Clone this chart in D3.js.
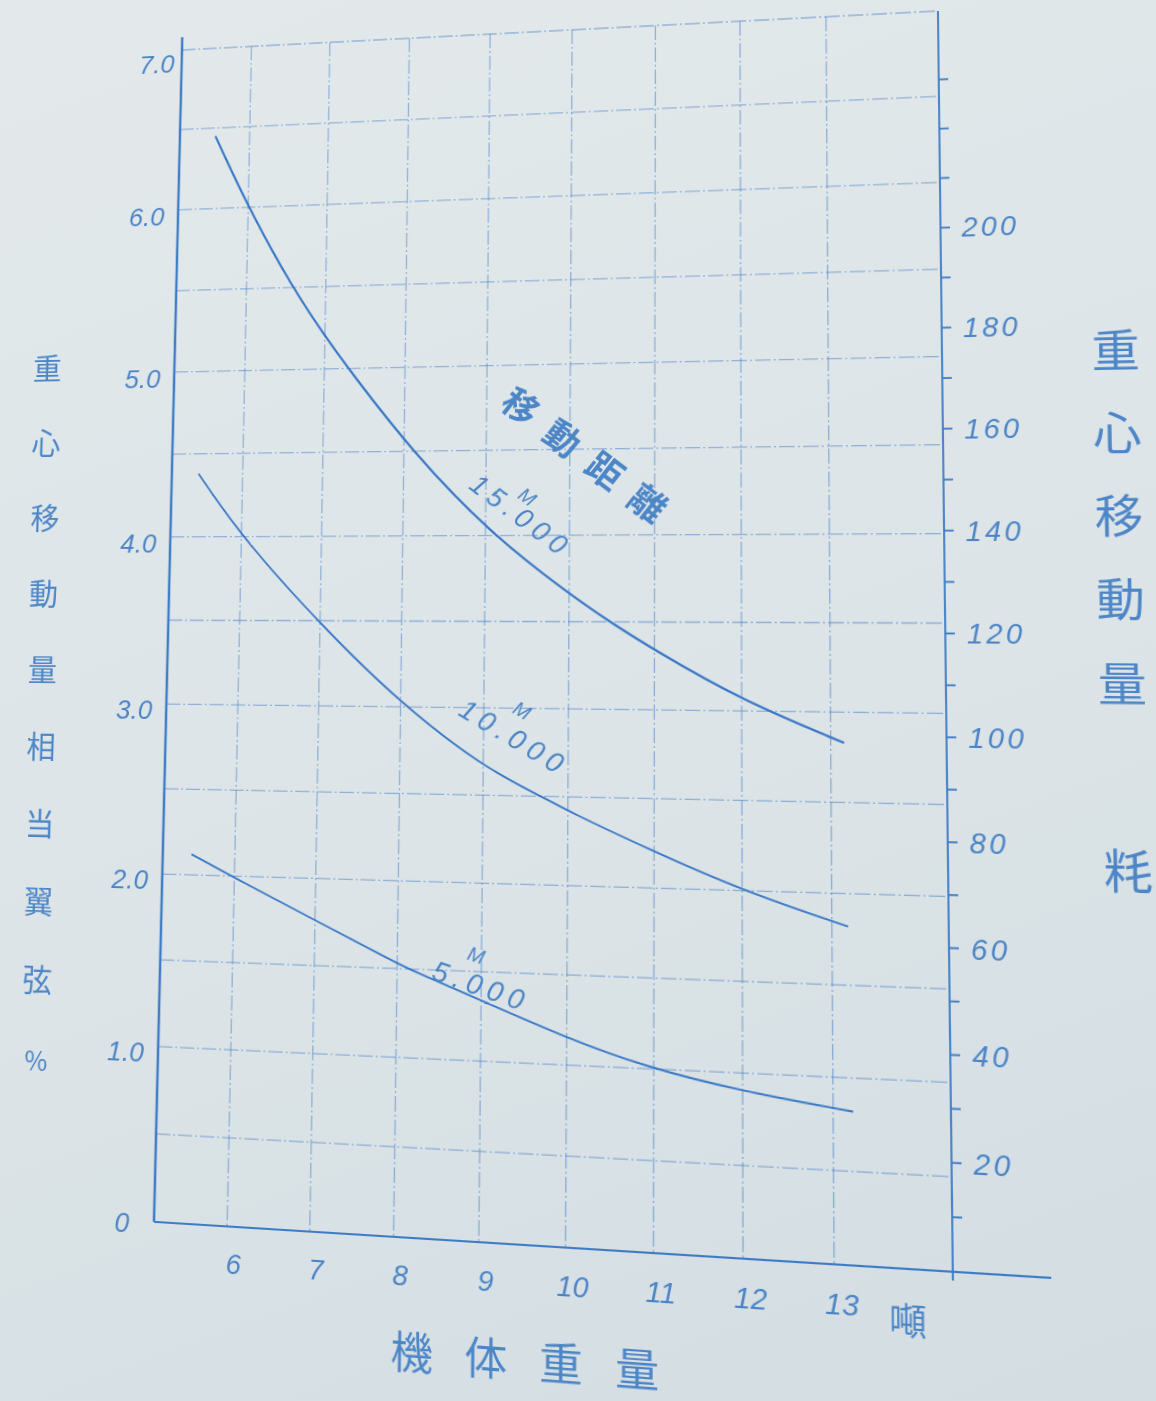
<!DOCTYPE html>
<html>
<head>
<meta charset="utf-8">
<script src="https://cdn.jsdelivr.net/npm/d3@7"></script>
<style>
  body { margin: 0; width: 1156px; height: 1401px; overflow: hidden;
         background: linear-gradient(160deg, #e3e9eb 0%, #dce4e7 55%, #d3dde2 100%); }
  #sheet { position: absolute; left: 0; top: 0; width: 1156px; height: 1401px; transform-origin: 0 0; }
  .num { font-family: "Liberation Sans", Arial, sans-serif; font-style: italic; fill: #4b84c6; }
  .cjk { font-family: "Noto Sans CJK JP", "Noto Sans CJK SC", sans-serif; fill: #4d86c7; }
</style>
</head>
<body>
<div id="sheet"></div>
<script>
// --- data ---
var tonTicks = [6, 7, 8, 9, 10, 11, 12, 13];
var pctTicks = [0, 1, 2, 3, 4, 5, 6, 7];
var pctTickLabels = ["0", "1.0", "2.0", "3.0", "4.0", "5.0", "6.0", "7.0"];
var mmTicks = [20, 40, 60, 80, 100, 120, 140, 160, 180, 200];
var leftTitle = ["重", "心", "移", "動", "量", "相", "当", "翼", "弦", "%"];
var rightTitle = ["重", "心", "移", "動", "量"];
var rightUnit = "粍";
var bottomTitle = ["機", "体", "重", "量"];
var bottomUnit = "噸";

// [機体重量 (噸), 重心移動量 (% 翼弦)]
var dist15000 = [[5.56, 6.45], [6, 6.0], [6.58, 5.5], [7, 5.2], [7.33, 4.98], [8.1, 4.5],
                 [9.04, 4.02], [10, 3.66], [10.48, 3.5], [11, 3.34], [12, 3.06], [13.15, 2.83]];
var dist10000 = [[5.44, 4.38], [6, 4.0], [7, 3.48], [8, 3.02], [9, 2.66], [9.69, 2.5],
                 [10, 2.42], [10.92, 2.22], [12, 2.0], [13.18, 1.82]];
var dist5000 = [[5.46, 2.12], [6, 1.99], [7, 1.76], [8, 1.53], [8.14, 1.5], [9, 1.34],
                [10, 1.15], [10.9, 1.01], [12, 0.9], [13.22, 0.82]];

// flat drawing frame
var L = 168, R = 945, T = 30, B = 1247;
var blue = "#3f7cc6";

var x = d3.scaleLinear().domain([5.1, 14.28]).range([L, R]);
var y = d3.scaleLinear().domain([0, 7]).range([B, T]);
var yR = d3.scaleLinear().domain([0, 244]).range([B, T]);

var svg = d3.select("#sheet").append("svg")
    .attr("width", 1156)
    .attr("height", 1401);

// grid (dash-dot, faint)
var grid = svg.append("g")
    .attr("stroke", blue)
    .attr("stroke-opacity", 0.5)
    .attr("stroke-width", 1.3)
    .attr("stroke-dasharray", "15 3 2 3");

grid.selectAll(".h")
    .data(d3.range(1, 15).map(function (i) { return i / 2; }))
    .join("line")
    .attr("x1", L).attr("x2", R)
    .attr("y1", function (d) { return y(d); })
    .attr("y2", function (d) { return y(d); });

grid.selectAll(".v")
    .data(tonTicks)
    .join("line")
    .attr("x1", function (d) { return x(d); })
    .attr("x2", function (d) { return x(d); })
    .attr("y1", T).attr("y2", B);

// axes
var axes = svg.append("g").attr("stroke", blue).attr("fill", "none");
axes.append("line").attr("x1", L).attr("x2", L).attr("y1", T - 14).attr("y2", B).attr("stroke-width", 2.6);
axes.append("line").attr("x1", L).attr("x2", R + 88).attr("y1", B).attr("y2", B).attr("stroke-width", 2);
axes.append("line").attr("x1", R).attr("x2", R).attr("y1", T).attr("y2", B + 8).attr("stroke-width", 1.8);

// right scale ticks every 10
axes.selectAll(".rt")
    .data(d3.range(10, 240, 10))
    .join("line")
    .attr("x1", R).attr("x2", R + 9)
    .attr("y1", function (d) { return yR(d); })
    .attr("y2", function (d) { return yR(d); })
    .attr("stroke-width", 1.8);

// left tick labels
svg.selectAll(".lt")
    .data(pctTicks)
    .join("text")
    .attr("class", "num")
    .attr("text-anchor", "end")
    .attr("font-size", 28)
    .attr("x", function (d) { return d === 0 ? L - 26 : d === 7 ? L - 8 : L - 15; })
    .attr("y", function (d) { return d === 0 ? y(d) + 12 : d === 7 ? y(d) + 24 : y(d) + 16; })
    .text(function (d, i) { return pctTickLabels[i]; });

// bottom tick labels
svg.selectAll(".bt")
    .data(tonTicks)
    .join("text")
    .attr("class", "num")
    .attr("text-anchor", "middle")
    .attr("font-size", 28)
    .attr("x", function (d) { return x(d) + 7; })
    .attr("y", B + 46)
    .text(function (d) { return d; });

svg.append("text")
    .attr("class", "cjk")
    .attr("font-size", 34)
    .attr("x", x(13) + 50)
    .attr("y", B + 60)
    .text(bottomUnit);

// right tick labels
svg.selectAll(".rl")
    .data(mmTicks)
    .join("text")
    .attr("class", "num")
    .attr("font-size", 27)
    .attr("letter-spacing", 3)
    .attr("x", R + 20)
    .attr("y", function (d) { return yR(d) + 10; })
    .text(function (d) { return d; });

// axis titles
svg.selectAll(".ltt")
    .data(leftTitle)
    .join("text")
    .attr("class", "cjk")
    .attr("text-anchor", "middle")
    .attr("font-size", function (d) { return d === "%" ? 27 : 32; })
    .attr("x", function (d, i) { return 28 + i * 1.1; })
    .attr("y", function (d, i) { return 383 + i * 80; })
    .text(function (d) { return d; });

svg.selectAll(".rtt")
    .data(rightTitle)
    .join("text")
    .attr("class", "cjk")
    .attr("text-anchor", "middle")
    .attr("font-size", 44)
    .attr("x", 1106)
    .attr("y", function (d, i) { return 392 + i * 80; })
    .text(function (d) { return d; });

svg.append("text")
    .attr("class", "cjk")
    .attr("text-anchor", "middle")
    .attr("font-size", 44)
    .attr("x", 1108)
    .attr("y", 888)
    .text(rightUnit);

svg.selectAll(".btt")
    .data(bottomTitle)
    .join("text")
    .attr("class", "cjk")
    .attr("text-anchor", "middle")
    .attr("font-size", 42)
    .attr("x", function (d, i) { return 433 + i * 73; })
    .attr("y", 1372)
    .text(function (d) { return d; });

// curves
var line = d3.line()
    .x(function (d) { return x(d[0]); })
    .y(function (d) { return y(d[1]); })
    .curve(d3.curveBasis);

svg.selectAll(".curve")
    .data([dist15000, dist10000, dist5000])
    .join("path")
    .attr("d", line)
    .attr("fill", "none")
    .attr("stroke", "#3a78c6")
    .attr("stroke-width", function (d, i) { return i === 0 ? 2.3 : 1.9; });

// curve labels, written along the curves
function curveLabel(t, wx, wy, ang, mdx, mdy) {
    var g = svg.append("g")
        .attr("transform", "translate(" + x(wx) + "," + y(wy) + ") rotate(" + ang + ")");
    g.append("text")
        .attr("class", "num")
        .attr("font-size", 28)
        .attr("letter-spacing", 6)
        .text(t);
    g.append("text")
        .attr("class", "num")
        .attr("font-size", 20)
        .attr("font-style", "normal")
        .attr("x", mdx)
        .attr("y", mdy)
        .text("M");
}
curveLabel("15.000", 8.78, 4.28, 37, 46, -22);
curveLabel("10.000", 8.68, 2.96, 30, 46, -30);
curveLabel("5.000", 8.40, 1.45, 17, 28, -30);

svg.append("g")
    .attr("transform", "translate(" + x(9.26) + "," + y(4.83) + ") rotate(38)")
    .append("text")
    .attr("class", "cjk")
    .attr("font-size", 36)
    .attr("font-weight", 700)
    .attr("letter-spacing", 18)
    .attr("dominant-baseline", "central")
    .text("移動距離");

// the sheet was photographed at an angle: map the flat frame onto the photo quad
function homography(src, dst) {
    var A = [], b = [];
    for (var i = 0; i < 4; i++) {
        var sx = src[i][0], sy = src[i][1], u = dst[i][0], v = dst[i][1];
        A.push([sx, sy, 1, 0, 0, 0, -u * sx, -u * sy]); b.push(u);
        A.push([0, 0, 0, sx, sy, 1, -v * sx, -v * sy]); b.push(v);
    }
    var n = 8;
    for (var c = 0; c < n; c++) {
        var p = c;
        for (var r = c + 1; r < n; r++) if (Math.abs(A[r][c]) > Math.abs(A[p][c])) p = r;
        var tmp = A[c]; A[c] = A[p]; A[p] = tmp;
        var tb = b[c]; b[c] = b[p]; b[p] = tb;
        for (var r2 = c + 1; r2 < n; r2++) {
            var f = A[r2][c] / A[c][c];
            for (var k = c; k < n; k++) A[r2][k] -= f * A[c][k];
            b[r2] -= f * b[c];
        }
    }
    var h = new Array(n);
    for (var r3 = n - 1; r3 >= 0; r3--) {
        var s = b[r3];
        for (var k2 = r3 + 1; k2 < n; k2++) s -= A[r3][k2] * h[k2];
        h[r3] = s / A[r3][r3];
    }
    return h;
}

var hm = homography(
    [[L, T], [R, T], [R, B], [L, B]],
    [[182, 50], [938, 11], [953, 1272], [154, 1222]]
);
d3.select("#sheet").style("transform",
    "matrix3d(" + [hm[0], hm[3], 0, hm[6], hm[1], hm[4], 0, hm[7], 0, 0, 1, 0, hm[2], hm[5], 0, 1].join(",") + ")");
</script>
</body>
</html>
